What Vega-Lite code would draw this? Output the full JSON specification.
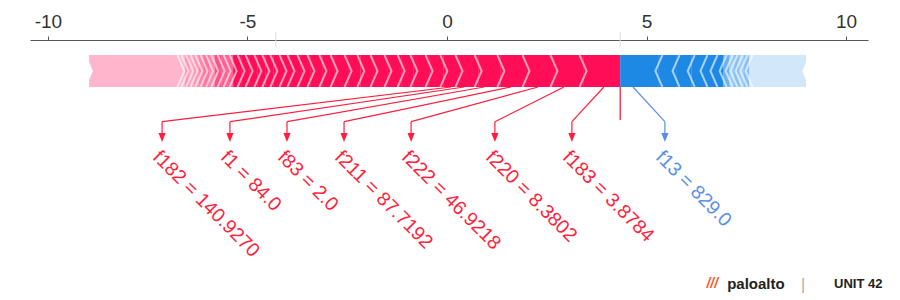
{
  "$schema": "https://vega.github.io/schema/vega-lite/v6.json",
  "width": 838,
  "height": 260,
  "autosize": {"type": "none"},
  "padding": {"left": 30, "top": 40, "right": 32, "bottom": 0},
  "background": "white",
  "config": {
    "view": {"stroke": null},
    "font": "Liberation Sans",
    "axis": {"grid": false, "domainColor": "#555555", "domainWidth": 1, "tickColor": "#555555", "tickSize": 4,
             "labelFontSize": 19, "labelColor": "#333333", "labelPadding": 5, "labelFont": "Liberation Sans",
             "labelFlush": false, "labelBound": false, "labelExpr": "toString(datum.value)"}
  },
  "datasets": {
    "segments": [
      {"feature": "rest", "start": -8.97, "end": -6.67, "contrib": 2.30, "sign": "pos", "kind": "rest"},
      {"feature": "", "start": -6.67, "end": -6.57, "contrib": 0.10, "sign": "pos", "kind": "feature"},
      {"feature": "", "start": -6.57, "end": -6.45, "contrib": 0.12, "sign": "pos", "kind": "feature"},
      {"feature": "", "start": -6.45, "end": -6.34, "contrib": 0.11, "sign": "pos", "kind": "feature"},
      {"feature": "", "start": -6.34, "end": -6.22, "contrib": 0.12, "sign": "pos", "kind": "feature"},
      {"feature": "", "start": -6.22, "end": -6.09, "contrib": 0.13, "sign": "pos", "kind": "feature"},
      {"feature": "", "start": -6.09, "end": -5.95, "contrib": 0.14, "sign": "pos", "kind": "feature"},
      {"feature": "", "start": -5.95, "end": -5.82, "contrib": 0.13, "sign": "pos", "kind": "feature"},
      {"feature": "", "start": -5.82, "end": -5.66, "contrib": 0.16, "sign": "pos", "kind": "feature"},
      {"feature": "", "start": -5.66, "end": -5.51, "contrib": 0.15, "sign": "pos", "kind": "feature"},
      {"feature": "", "start": -5.51, "end": -5.36, "contrib": 0.15, "sign": "pos", "kind": "feature"},
      {"feature": "", "start": -5.36, "end": -5.16, "contrib": 0.20, "sign": "pos", "kind": "feature"},
      {"feature": "", "start": -5.16, "end": -4.96, "contrib": 0.20, "sign": "pos", "kind": "feature"},
      {"feature": "", "start": -4.96, "end": -4.74, "contrib": 0.22, "sign": "pos", "kind": "feature"},
      {"feature": "", "start": -4.74, "end": -4.54, "contrib": 0.20, "sign": "pos", "kind": "feature"},
      {"feature": "", "start": -4.54, "end": -4.34, "contrib": 0.20, "sign": "pos", "kind": "feature"},
      {"feature": "", "start": -4.34, "end": -4.11, "contrib": 0.23, "sign": "pos", "kind": "feature"},
      {"feature": "", "start": -4.11, "end": -3.91, "contrib": 0.20, "sign": "pos", "kind": "feature"},
      {"feature": "", "start": -3.91, "end": -3.66, "contrib": 0.25, "sign": "pos", "kind": "feature"},
      {"feature": "", "start": -3.66, "end": -3.41, "contrib": 0.25, "sign": "pos", "kind": "feature"},
      {"feature": "", "start": -3.41, "end": -3.11, "contrib": 0.30, "sign": "pos", "kind": "feature"},
      {"feature": "", "start": -3.11, "end": -2.83, "contrib": 0.28, "sign": "pos", "kind": "feature"},
      {"feature": "", "start": -2.83, "end": -2.48, "contrib": 0.35, "sign": "pos", "kind": "feature"},
      {"feature": "", "start": -2.48, "end": -2.16, "contrib": 0.32, "sign": "pos", "kind": "feature"},
      {"feature": "", "start": -2.16, "end": -1.83, "contrib": 0.33, "sign": "pos", "kind": "feature"},
      {"feature": "", "start": -1.83, "end": -1.48, "contrib": 0.35, "sign": "pos", "kind": "feature"},
      {"feature": "", "start": -1.48, "end": -1.15, "contrib": 0.33, "sign": "pos", "kind": "feature"},
      {"feature": "", "start": -1.15, "end": -0.83, "contrib": 0.32, "sign": "pos", "kind": "feature"},
      {"feature": "", "start": -0.83, "end": -0.45, "contrib": 0.38, "sign": "pos", "kind": "feature"},
      {"feature": "", "start": -0.45, "end": -0.08, "contrib": 0.37, "sign": "pos", "kind": "feature"},
      {"feature": "f182", "start": -0.08, "end": 0.30, "contrib": 0.38, "sign": "pos", "kind": "feature"},
      {"feature": "f1", "start": 0.30, "end": 0.78, "contrib": 0.48, "sign": "pos", "kind": "feature"},
      {"feature": "f83", "start": 0.78, "end": 1.35, "contrib": 0.57, "sign": "pos", "kind": "feature"},
      {"feature": "f211", "start": 1.35, "end": 1.98, "contrib": 0.63, "sign": "pos", "kind": "feature"},
      {"feature": "f222", "start": 1.98, "end": 2.68, "contrib": 0.70, "sign": "pos", "kind": "feature"},
      {"feature": "f220", "start": 2.68, "end": 3.41, "contrib": 0.73, "sign": "pos", "kind": "feature"},
      {"feature": "f183", "start": 3.41, "end": 4.34, "contrib": 0.93, "sign": "pos", "kind": "feature"},
      {"feature": "f13", "start": 4.34, "end": 5.31, "contrib": 0.97, "sign": "neg", "kind": "feature"},
      {"feature": "", "start": 5.31, "end": 5.74, "contrib": 0.43, "sign": "neg", "kind": "feature"},
      {"feature": "", "start": 5.74, "end": 6.12, "contrib": 0.38, "sign": "neg", "kind": "feature"},
      {"feature": "", "start": 6.12, "end": 6.44, "contrib": 0.32, "sign": "neg", "kind": "feature"},
      {"feature": "", "start": 6.44, "end": 6.69, "contrib": 0.25, "sign": "neg", "kind": "feature"},
      {"feature": "", "start": 6.69, "end": 6.92, "contrib": 0.23, "sign": "neg", "kind": "feature"},
      {"feature": "", "start": 6.92, "end": 7.07, "contrib": 0.15, "sign": "neg", "kind": "feature"},
      {"feature": "", "start": 7.07, "end": 7.19, "contrib": 0.12, "sign": "neg", "kind": "feature"},
      {"feature": "", "start": 7.19, "end": 7.32, "contrib": 0.13, "sign": "neg", "kind": "feature"},
      {"feature": "", "start": 7.32, "end": 7.44, "contrib": 0.12, "sign": "neg", "kind": "feature"},
      {"feature": "", "start": 7.44, "end": 7.57, "contrib": 0.13, "sign": "neg", "kind": "feature"},
      {"feature": "rest", "start": 7.57, "end": 9.0, "contrib": 1.43, "sign": "neg", "kind": "rest"}
    ],
    "labels": [
      {"feature": "f182", "label": "f182 = 140.9270", "anchor": 0.10, "pos": -7.14, "sign": "pos"},
      {"feature": "f1", "label": "f1 = 84.0", "anchor": 0.43, "pos": -5.44, "sign": "pos"},
      {"feature": "f83", "label": "f83 = 2.0", "anchor": 0.93, "pos": -4.01, "sign": "pos"},
      {"feature": "f211", "label": "f211 = 87.7192", "anchor": 1.60, "pos": -2.58, "sign": "pos"},
      {"feature": "f222", "label": "f222 = 46.9218", "anchor": 2.28, "pos": -0.90, "sign": "pos"},
      {"feature": "f220", "label": "f220 = 8.3802", "anchor": 2.93, "pos": 1.20, "sign": "pos"},
      {"feature": "f183", "label": "f183 = 3.8784", "anchor": 3.93, "pos": 3.13, "sign": "pos"},
      {"feature": "f13", "label": "f13 = 829.0", "anchor": 4.66, "pos": 5.46, "sign": "neg"}
    ],
    "summary": [
      {"name": "base value", "value": -4.29},
      {"name": "f(x)", "value": 4.34}
    ],
    "one": [{}]
  },
  "resolve": {"scale": {"color": "independent", "opacity": "independent", "shape": "independent"}},
  "layer": [
    {
      "data": {"name": "summary"},
      "mark": {"type": "rule", "color": "#dddddd", "strokeWidth": 1},
      "encoding": {
        "x": {"field": "value", "type": "quantitative",
              "scale": {"domain": [-10.45, 10.55], "nice": false, "zero": false},
              "axis": {"orient": "top", "values": [-10, -5, 0, 5, 10], "title": null}},
        "y": {"datum": -8, "type": "quantitative", "scale": {"domain": [0, 260], "reverse": true, "nice": false, "zero": false}, "axis": null},
        "y2": {"datum": 7}
      }
    },
    {
      "data": {"name": "segments"},
      "transform": [{"filter": "datum.kind == 'rest'"}],
      "mark": {"type": "rect", "opacity": 1},
      "encoding": {
        "x": {"field": "start", "type": "quantitative", "scale": {"domain": [-10.45, 10.55], "nice": false, "zero": false}, "axis": {"orient": "top", "values": [-10, -5, 0, 5, 10], "title": null}},
        "x2": {"field": "end"},
        "y": {"datum": 15, "type": "quantitative", "scale": {"domain": [0, 260], "reverse": true, "nice": false, "zero": false}, "axis": null},
        "y2": {"datum": 47},
        "color": {"field": "sign", "type": "nominal", "scale": {"domain": ["pos", "neg"], "range": ["#FFB6CD", "#D2E7FA"]}, "legend": null}
      }
    },
    {
      "data": {"name": "segments"},
      "transform": [{"filter": "datum.kind == 'feature'"}],
      "mark": {"type": "rect"},
      "encoding": {
        "x": {"field": "start", "type": "quantitative", "scale": {"domain": [-10.45, 10.55], "nice": false, "zero": false}, "axis": {"orient": "top", "values": [-10, -5, 0, 5, 10], "title": null}},
        "x2": {"field": "end"},
        "y": {"datum": 15, "type": "quantitative", "scale": {"domain": [0, 260], "reverse": true, "nice": false, "zero": false}, "axis": null},
        "y2": {"datum": 47},
        "color": {"field": "sign", "type": "nominal", "scale": {"domain": ["pos", "neg"], "range": ["#FF0D57", "#1E88E5"]}, "legend": null},
        "opacity": {"field": "contrib", "type": "quantitative", "scale": {"domain": [0.1, 0.2], "range": [0.3, 1], "clamp": true}, "legend": null}
      }
    },
    {
      "data": {"name": "segments"},
      "transform": [{"filter": "datum.kind == 'feature' && datum.sign == 'pos'"}],
      "mark": {"type": "point", "shape": "M -0.22 -1 L 0.22 0 L -0.22 1", "size": 1024, "filled": false, "stroke": "white", "strokeWidth": 2, "opacity": 0.6},
      "encoding": {
        "x": {"field": "start", "type": "quantitative", "scale": {"domain": [-10.45, 10.55], "nice": false, "zero": false}, "axis": {"orient": "top", "values": [-10, -5, 0, 5, 10], "title": null}},
        "y": {"datum": 31, "type": "quantitative", "scale": {"domain": [0, 260], "reverse": true, "nice": false, "zero": false}, "axis": null}
      }
    },
    {
      "data": {"name": "segments"},
      "transform": [{"filter": "datum.kind == 'feature' && datum.sign == 'neg'"}],
      "mark": {"type": "point", "shape": "M 0.22 -1 L -0.22 0 L 0.22 1", "size": 1024, "filled": false, "stroke": "white", "strokeWidth": 2, "opacity": 0.6},
      "encoding": {
        "x": {"field": "end", "type": "quantitative", "scale": {"domain": [-10.45, 10.55], "nice": false, "zero": false}, "axis": {"orient": "top", "values": [-10, -5, 0, 5, 10], "title": null}},
        "y": {"datum": 31, "type": "quantitative", "scale": {"domain": [0, 260], "reverse": true, "nice": false, "zero": false}, "axis": null}
      }
    },
    {
      "data": {"name": "segments"},
      "transform": [{"filter": "datum.kind == 'rest' && datum.sign == 'pos'"}],
      "mark": {"type": "point", "shape": "M -0.2 -1.06 L 0.24 0 L -0.2 1.06 Z", "size": 1024, "filled": true, "fill": "white", "strokeWidth": 0, "opacity": 1},
      "encoding": {
        "x": {"field": "start", "type": "quantitative", "scale": {"domain": [-10.45, 10.55], "nice": false, "zero": false}, "axis": {"orient": "top", "values": [-10, -5, 0, 5, 10], "title": null}},
        "y": {"datum": 31, "type": "quantitative", "scale": {"domain": [0, 260], "reverse": true, "nice": false, "zero": false}, "axis": null}
      }
    },
    {
      "data": {"name": "segments"},
      "transform": [{"filter": "datum.kind == 'rest' && datum.sign == 'neg'"}],
      "mark": {"type": "point", "shape": "M 0.2 -1.06 L -0.24 0 L 0.2 1.06 Z", "size": 1024, "filled": true, "fill": "white", "strokeWidth": 0, "opacity": 1},
      "encoding": {
        "x": {"field": "end", "type": "quantitative", "scale": {"domain": [-10.45, 10.55], "nice": false, "zero": false}, "axis": {"orient": "top", "values": [-10, -5, 0, 5, 10], "title": null}},
        "y": {"datum": 31, "type": "quantitative", "scale": {"domain": [0, 260], "reverse": true, "nice": false, "zero": false}, "axis": null}
      }
    },
    {
      "data": {"name": "summary"},
      "transform": [{"filter": "datum.name == 'f(x)'"}],
      "mark": {"type": "rule", "color": "#FF1F3D", "strokeWidth": 1.3},
      "encoding": {
        "x": {"field": "value", "type": "quantitative", "scale": {"domain": [-10.45, 10.55], "nice": false, "zero": false}, "axis": {"orient": "top", "values": [-10, -5, 0, 5, 10], "title": null}},
        "y": {"datum": 47, "type": "quantitative", "scale": {"domain": [0, 260], "reverse": true, "nice": false, "zero": false}, "axis": null},
        "y2": {"datum": 80}
      }
    },
    {
      "data": {"name": "labels"},
      "mark": {"type": "rule", "strokeWidth": 1.2},
      "encoding": {
        "x": {"field": "anchor", "type": "quantitative", "scale": {"domain": [-10.45, 10.55], "nice": false, "zero": false}, "axis": {"orient": "top", "values": [-10, -5, 0, 5, 10], "title": null}},
        "x2": {"field": "pos"},
        "y": {"datum": 47, "type": "quantitative", "scale": {"domain": [0, 260], "reverse": true, "nice": false, "zero": false}, "axis": null},
        "y2": {"datum": 81.7},
        "color": {"field": "sign", "type": "nominal", "scale": {"domain": ["pos", "neg"], "range": ["#FF1F3D", "#5A8FE6"]}, "legend": null}
      }
    },
    {
      "data": {"name": "labels"},
      "mark": {"type": "rule", "strokeWidth": 1.2},
      "encoding": {
        "x": {"field": "pos", "type": "quantitative", "scale": {"domain": [-10.45, 10.55], "nice": false, "zero": false}, "axis": {"orient": "top", "values": [-10, -5, 0, 5, 10], "title": null}},
        "y": {"datum": 81.7, "type": "quantitative", "scale": {"domain": [0, 260], "reverse": true, "nice": false, "zero": false}, "axis": null},
        "y2": {"datum": 94},
        "color": {"field": "sign", "type": "nominal", "scale": {"domain": ["pos", "neg"], "range": ["#FF1F3D", "#5A8FE6"]}, "legend": null}
      }
    },
    {
      "data": {"name": "labels"},
      "mark": {"type": "point", "shape": "M -0.8 -1 L 0.8 -1 L 0 1 Z", "size": 81, "filled": true, "opacity": 1, "strokeWidth": 0},
      "encoding": {
        "x": {"field": "pos", "type": "quantitative", "scale": {"domain": [-10.45, 10.55], "nice": false, "zero": false}, "axis": {"orient": "top", "values": [-10, -5, 0, 5, 10], "title": null}},
        "y": {"datum": 97.5, "type": "quantitative", "scale": {"domain": [0, 260], "reverse": true, "nice": false, "zero": false}, "axis": null},
        "color": {"field": "sign", "type": "nominal", "scale": {"domain": ["pos", "neg"], "range": ["#FF1F3D", "#5A8FE6"]}, "legend": null}
      }
    },
    {
      "data": {"name": "labels"},
      "mark": {"type": "text", "angle": 45, "align": "left", "baseline": "middle", "fontSize": 19.5, "font": "Liberation Sans", "dx": -5.7, "dy": 2.8},
      "encoding": {
        "x": {"field": "pos", "type": "quantitative", "scale": {"domain": [-10.45, 10.55], "nice": false, "zero": false}, "axis": {"orient": "top", "values": [-10, -5, 0, 5, 10], "title": null}},
        "y": {"datum": 116, "type": "quantitative", "scale": {"domain": [0, 260], "reverse": true, "nice": false, "zero": false}, "axis": null},
        "text": {"field": "label"},
        "color": {"field": "sign", "type": "nominal", "scale": {"domain": ["pos", "neg"], "range": ["#FF1F3D", "#5A8FE6"]}, "legend": null}
      }
    },
    {
      "data": {"name": "one"},
      "mark": {"type": "text", "align": "left", "baseline": "middle", "fontSize": 14, "fontWeight": "bold", "fontStyle": "italic", "color": "#FA582D", "font": "Liberation Sans"},
      "encoding": {
        "x": {"datum": 6.5, "type": "quantitative", "scale": {"domain": [-10.45, 10.55], "nice": false, "zero": false}, "axis": {"orient": "top", "values": [-10, -5, 0, 5, 10], "title": null}},
        "y": {"datum": 244, "type": "quantitative", "scale": {"domain": [0, 260], "reverse": true, "nice": false, "zero": false}, "axis": null},
        "text": {"value": "///"}
      }
    },
    {
      "data": {"name": "one"},
      "mark": {"type": "text", "align": "left", "baseline": "middle", "fontSize": 15, "fontWeight": "bold", "color": "#222222", "font": "Liberation Sans"},
      "encoding": {
        "x": {"datum": 7.02, "type": "quantitative", "scale": {"domain": [-10.45, 10.55], "nice": false, "zero": false}, "axis": {"orient": "top", "values": [-10, -5, 0, 5, 10], "title": null}},
        "y": {"datum": 244, "type": "quantitative", "scale": {"domain": [0, 260], "reverse": true, "nice": false, "zero": false}, "axis": null},
        "text": {"value": "paloalto"}
      }
    },
    {
      "data": {"name": "one"},
      "mark": {"type": "text", "align": "center", "baseline": "middle", "fontSize": 16, "color": "#aaaaaa", "font": "Liberation Sans"},
      "encoding": {
        "x": {"datum": 8.92, "type": "quantitative", "scale": {"domain": [-10.45, 10.55], "nice": false, "zero": false}, "axis": {"orient": "top", "values": [-10, -5, 0, 5, 10], "title": null}},
        "y": {"datum": 245, "type": "quantitative", "scale": {"domain": [0, 260], "reverse": true, "nice": false, "zero": false}, "axis": null},
        "text": {"value": "|"}
      }
    },
    {
      "data": {"name": "one"},
      "mark": {"type": "text", "align": "left", "baseline": "middle", "fontSize": 13, "fontWeight": "bold", "color": "#222222", "font": "Liberation Sans"},
      "encoding": {
        "x": {"datum": 9.7, "type": "quantitative", "scale": {"domain": [-10.45, 10.55], "nice": false, "zero": false}, "axis": {"orient": "top", "values": [-10, -5, 0, 5, 10], "title": null}},
        "y": {"datum": 244, "type": "quantitative", "scale": {"domain": [0, 260], "reverse": true, "nice": false, "zero": false}, "axis": null},
        "text": {"value": "UNIT 42"}
      }
    }
  ]
}
